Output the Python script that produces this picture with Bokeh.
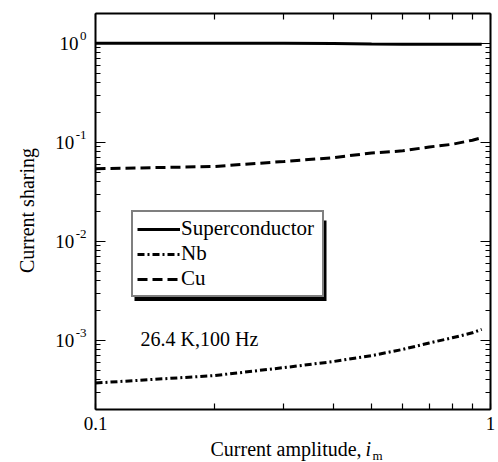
import math
from bokeh.plotting import figure
from bokeh.models import (LogAxis, FixedTicker, NumeralTickFormatter, Label,
                          Legend, LegendItem, BoxAnnotation, Range1d)
from bokeh.embed import file_html
from bokeh.resources import INLINE

# ---- data ----
amplitude = [0.1, 0.2, 0.3, 0.4, 0.5, 0.6, 0.7, 0.8, 0.9, 0.95]
superconductor = [1.0, 1.0, 1.0, 0.995, 0.985, 0.98, 0.98, 0.98, 0.98, 0.98]
nb = [3.7e-4, 4.4e-4, 5.3e-4, 6.1e-4, 7.0e-4, 8.1e-4, 9.4e-4, 1.06e-3, 1.19e-3, 1.29e-3]
cu = [0.054, 0.057, 0.064, 0.070, 0.078, 0.082, 0.0897, 0.0955, 0.105, 0.111]

x_major = [0.1, 1.0]
x_minor = [0.2, 0.3, 0.4, 0.5, 0.6, 0.7, 0.8, 0.9]
y_exponents = [0, -1, -2, -3]
series_names = ["Superconductor", "Nb", "Cu"]
annotation_text = "26.4 K,100 Hz"

XMIN, XMAX = 0.1, 1.0
YMIN, YMAX = 2e-4, 2.0
FONT = "Liberation Serif"
W, H = 498, 462
BOX_L, BOX_R, BOX_T, BOX_B = 95, 490, 13, 409  # plot box in canvas pixels


def px_to_x(px):
    lo, hi = math.log10(XMIN), math.log10(XMAX)
    return 10 ** (lo + (px - BOX_L) / (BOX_R - BOX_L) * (hi - lo))


def py_to_y(py):
    lo, hi = math.log10(YMIN), math.log10(YMAX)
    return 10 ** (hi - (py - BOX_T) / (BOX_B - BOX_T) * (hi - lo))


# the frame covers the whole canvas; the plot box is drawn by fixed axes
p = figure(width=W, height=H, x_axis_type="log", y_axis_type="log",
           x_range=Range1d(px_to_x(0), px_to_x(W)),
           y_range=Range1d(py_to_y(H), py_to_y(0)),
           x_axis_location=None, y_axis_location=None,
           output_backend="svg", toolbar_location=None,
           min_border_left=0, min_border_right=0, min_border_top=0,
           min_border_bottom=0)
p.background_fill_color = "white"
p.border_fill_color = "white"
p.outline_line_color = None
p.xgrid.visible = False
p.ygrid.visible = False

y_major = [10.0 ** e for e in y_exponents]
y_minor = [m * 10.0 ** e for e in range(-4, 1) for m in range(2, 10)
           if YMIN <= m * 10.0 ** e <= YMAX]


def make_axis(major, minor, maj_len, min_len, loc, bounds, labels=False):
    ax = LogAxis(fixed_location=loc, bounds=bounds)
    ax.ticker = FixedTicker(ticks=major, minor_ticks=minor)
    ax.axis_line_color = "black"
    ax.axis_line_width = 2
    ax.major_tick_in = maj_len
    ax.major_tick_out = 0
    ax.minor_tick_in = min_len
    ax.minor_tick_out = 0
    ax.major_tick_line_width = 1.2
    ax.minor_tick_line_width = 1.2
    ax.major_tick_line_color = "black"
    ax.minor_tick_line_color = "black"
    if labels:
        ax.formatter = NumeralTickFormatter(format="0.[0]")
        ax.major_label_text_font = FONT
        ax.major_label_text_font_size = "19px"
        ax.major_label_text_color = "black"
        ax.major_label_standoff = 7
    else:
        ax.major_label_text_color = None
        ax.major_label_text_font_size = "1px"
        ax.major_label_standoff = 0
    return ax


p.add_layout(make_axis(x_major, x_minor, 6, 6, YMIN, (XMIN, XMAX), labels=True), "below")
p.add_layout(make_axis(x_major, x_minor, 6, 6, YMAX, (XMIN, XMAX)), "above")
p.add_layout(make_axis(y_major, y_minor, 10, 5, XMIN, (YMIN, YMAX)), "left")
p.add_layout(make_axis(y_major, y_minor, 10, 5, XMAX, (YMIN, YMAX)), "right")

# curves
r_sc = p.line(amplitude, superconductor, line_color="black", line_width=3)
r_nb = p.line(amplitude, nb, line_color="black", line_width=3, line_dash="7 3 2 3")
r_cu = p.line(amplitude, cu, line_color="black", line_width=3, line_dash="10 5")

# legend shadow
shadow = BoxAnnotation(left=px_to_x(134), right=px_to_x(326),
                       top=py_to_y(220), bottom=py_to_y(300.5),
                       fill_color="black", fill_alpha=1, line_color=None)
p.add_layout(shadow)

legend = Legend(items=[LegendItem(label=series_names[0], renderers=[r_sc]),
                       LegendItem(label=series_names[1], renderers=[r_nb]),
                       LegendItem(label=series_names[2], renderers=[r_cu])],
                location=(131, H - 297))
legend.border_line_color = "black"
legend.border_line_width = 2
legend.background_fill_color = "white"
legend.background_fill_alpha = 1
legend.label_text_font = FONT
legend.label_text_font_size = "21px"
legend.label_text_color = "black"
legend.glyph_width = 43
legend.glyph_height = 22
legend.label_height = 22
legend.label_width = 137
legend.label_standoff = 1
legend.spacing = -4
legend.padding = 4
legend.margin = 0
p.add_layout(legend, "center")


# y tick labels 10^e
def exp_width(s, size):
    w = {"-": 0.333}
    return sum(w.get(c, 0.5) for c in s) * size


for e in y_exponents:
    es = str(e)
    ew = exp_width(es, 13)
    p.add_layout(Label(x=XMIN, y=10.0 ** e, text="10", text_font=FONT,
                       text_font_size="19px", text_align="right",
                       text_baseline="middle", x_offset=-9 - ew - 1.5,
                       text_color="black"))
    p.add_layout(Label(x=XMIN, y=10.0 ** e, text=es, text_font=FONT,
                       text_font_size="13px", text_align="right",
                       text_baseline="middle", x_offset=-9, y_offset=7,
                       text_color="black"))

# axis titles
p.add_layout(Label(x=XMIN, y=YMIN, text="Current amplitude,", text_font=FONT,
                   text_font_size="20px", text_align="left",
                   text_baseline="middle", x_offset=115, y_offset=-39.5,
                   text_color="black"))
p.add_layout(Label(x=XMIN, y=YMIN, text="i", text_font=FONT,
                   text_font_style="italic",
                   text_font_size="20px", text_align="left",
                   text_baseline="middle", x_offset=270, y_offset=-39.5,
                   text_color="black"))
p.add_layout(Label(x=XMIN, y=YMIN, text="m", text_font=FONT,
                   text_font_size="13px", text_align="left",
                   text_baseline="middle", x_offset=277, y_offset=-46,
                   text_color="black"))
p.add_layout(Label(x=XMIN, y=10 ** ((math.log10(YMAX) + math.log10(YMIN)) / 2),
                   text="Current sharing", text_font=FONT,
                   text_font_size="20px", text_align="center",
                   text_baseline="middle", angle=math.pi / 2,
                   x_offset=-68.5, y_offset=1, text_color="black"))

p.add_layout(Label(x=XMIN, y=1e-3, text=annotation_text, text_font=FONT,
                   text_font_size="20px", text_align="left",
                   text_baseline="middle", x_offset=45, y_offset=1,
                   text_color="black"))

open("out.html", "w").write(file_html(p, INLINE))
